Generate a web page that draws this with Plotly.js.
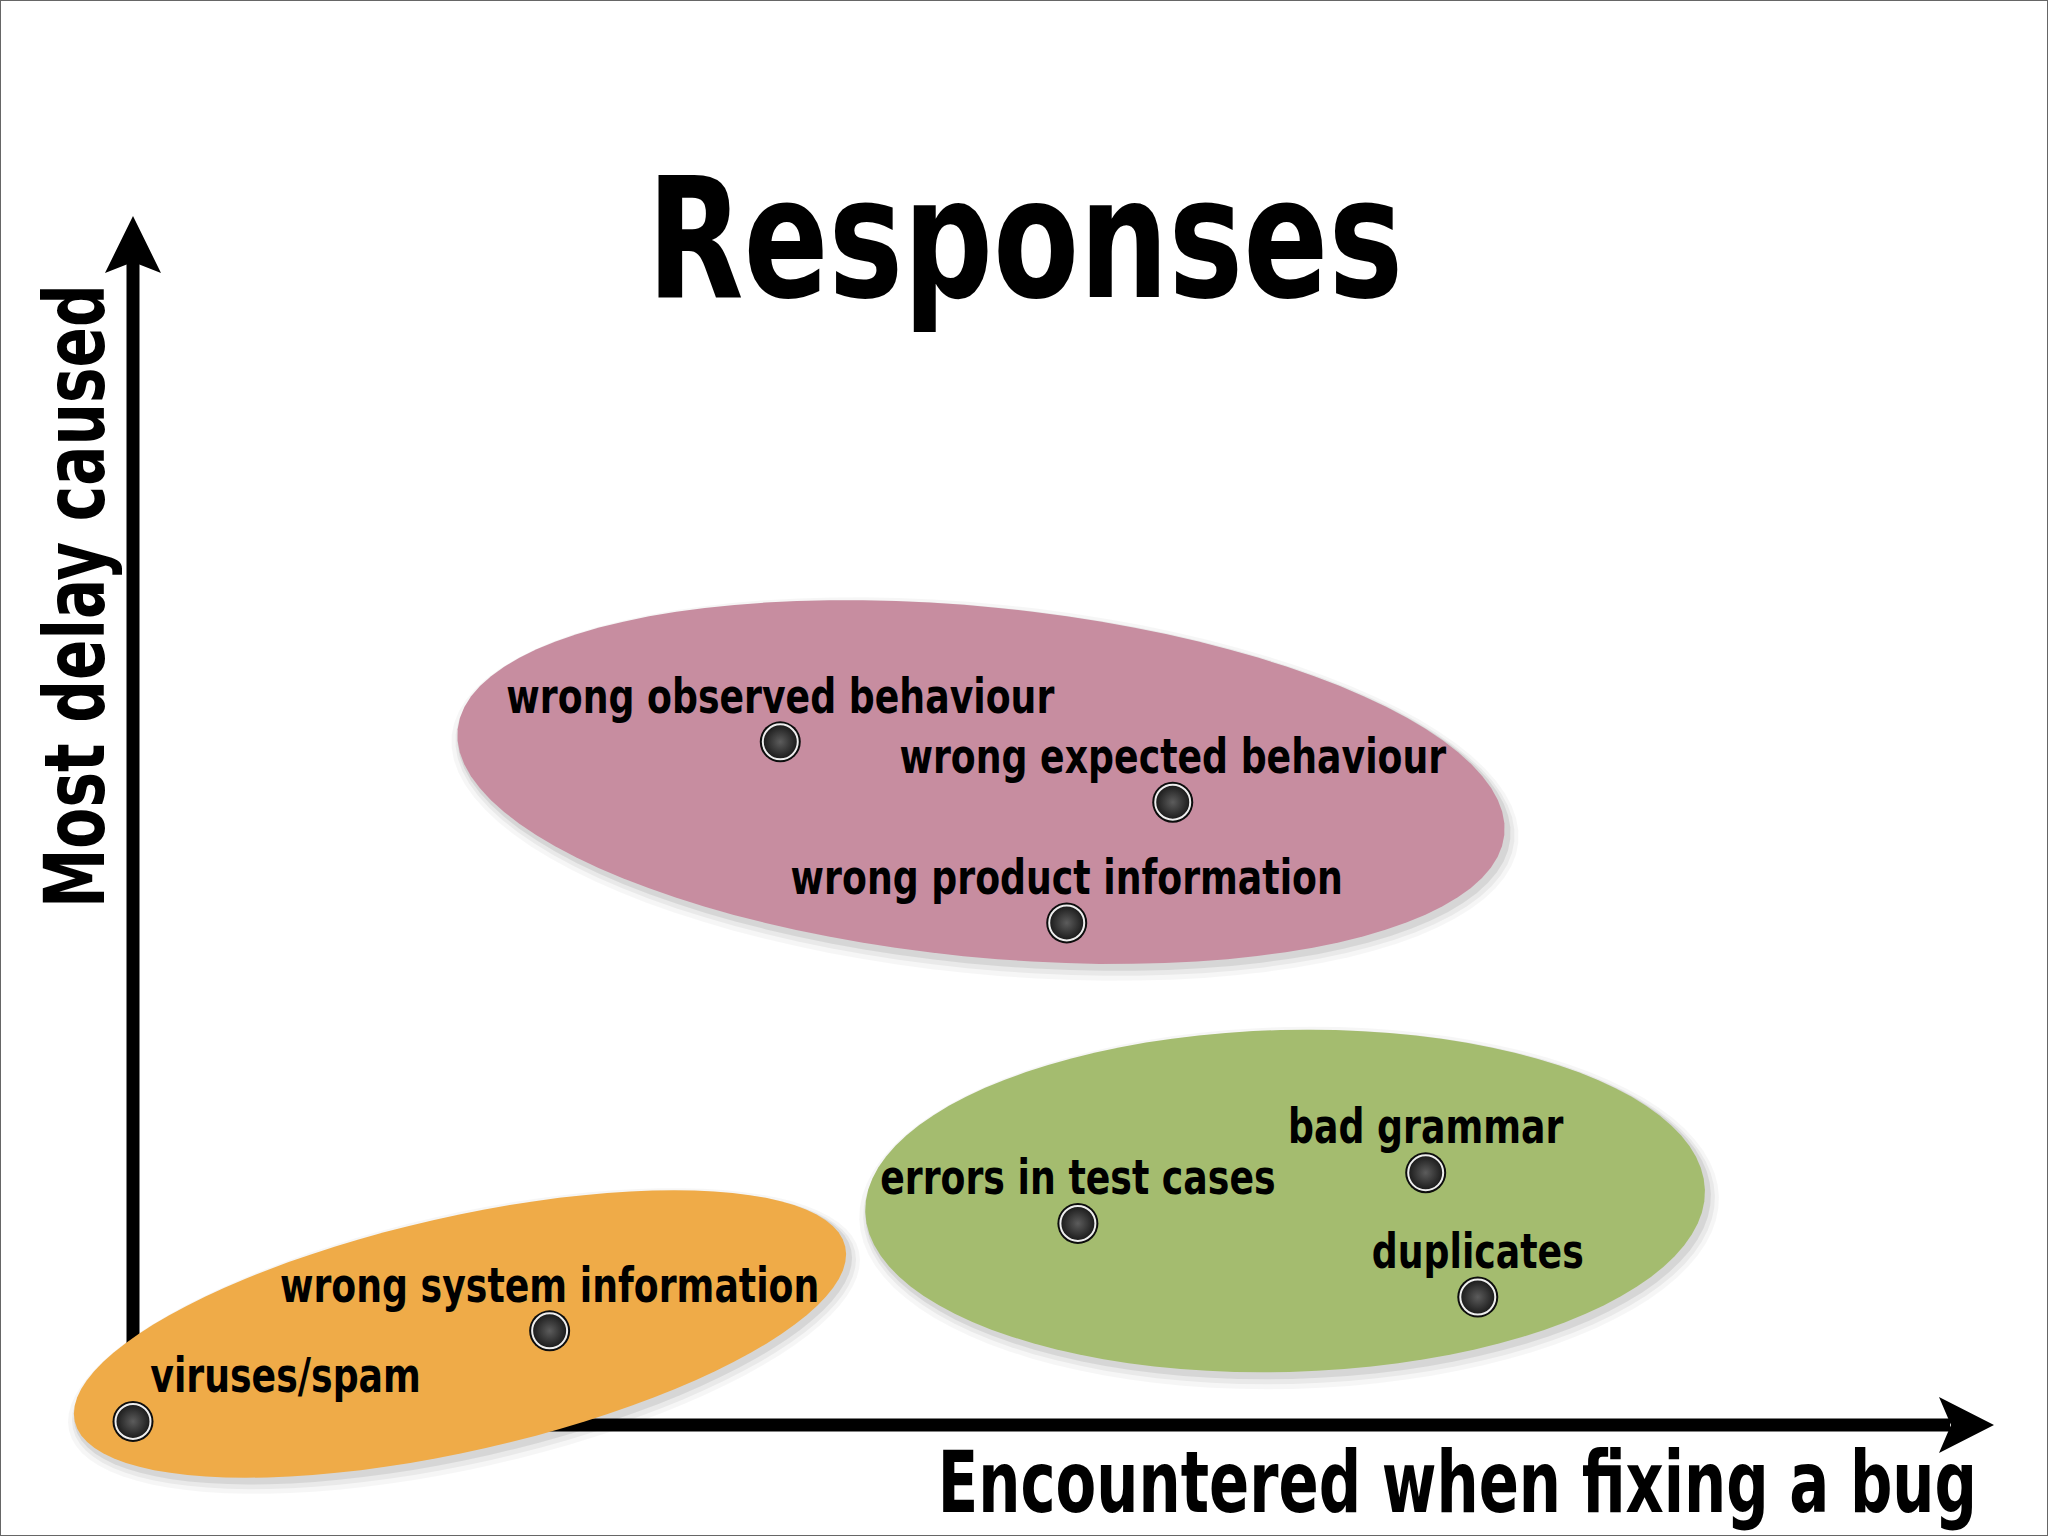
<!DOCTYPE html>
<html><head><meta charset="utf-8">
<script src="https://cdn.plot.ly/plotly-3.0.1.min.js"></script>
<style>html,body{margin:0;padding:0;background:#fff;} #chart{width:2048px;height:1536px;}</style>
</head><body><div id="chart"></div>
<script>
// ---- data (axes run 0..10 on both scales) ----
const labels = ['wrong observed behaviour', 'wrong expected behaviour', 'wrong product information',
                'errors in test cases', 'bad grammar', 'duplicates',
                'wrong system information', 'viruses/spam'];
const encountered = [3.48, 5.59, 5.02, 5.08, 6.95, 7.23, 2.24, 0.00];
const delay       = [5.66, 5.16, 4.16, 1.67, 2.09, 1.06, 0.78, 0.03];

// clusters (ellipses), in axis units
const clusterX    = [4.559, 6.194, 1.758];
const clusterY    = [5.327, 1.856, 0.754];
const clusterA    = [2.828, 2.258, 2.124];   // semi-axis along x units
const clusterB    = [1.450, 1.417, 0.969];   // semi-axis along y units
const clusterTilt = [5.75, -1.5, -12.8];

const titleText = 'Responses';
const xTitle = 'Encountered when fixing a bug';
const yTitle = 'Most delay caused';

// ---- styling ----
const FONT = "'Liberation Sans Narrow', 'Arial Narrow', 'DejaVu Sans Condensed', sans-serif";
const clusterColors = ['#c78da0', '#a4bc6f', '#efab48'];
const W = 2048, H = 1536;
const PXX = 186, PXY = 120.7;   // pixels per axis unit
const X0 = 133, Y0 = 1425;      // pixel position of the origin
const toX = px => (px - X0) / PXX;
const toY = py => (Y0 - py) / PXY;

function ellipsePath(i, grow, dxp, dyp) {
  const ax = clusterA[i] * PXX + grow, by = clusterB[i] * PXY + grow;
  const th = clusterTilt[i] * Math.PI / 180;
  const cxp = X0 + clusterX[i] * PXX + dxp, cyp = Y0 - clusterY[i] * PXY + dyp;
  let d = '';
  const N = 96;
  for (let k = 0; k <= N; k++) {
    const t = 2 * Math.PI * k / N;
    const px = cxp + ax * Math.cos(t) * Math.cos(th) - by * Math.sin(t) * Math.sin(th);
    const py = cyp + ax * Math.cos(t) * Math.sin(th) + by * Math.sin(t) * Math.cos(th);
    d += (k ? 'L' : 'M') + toX(px).toFixed(4) + ',' + toY(py).toFixed(4);
  }
  return d + 'Z';
}
function polyPath(pts) {
  return pts.map((p, k) => (k ? 'L' : 'M') + toX(p[0]).toFixed(4) + ',' + toY(p[1]).toFixed(4)).join('') + 'Z';
}

const shapes = [];
// axis arrows
shapes.push({type: 'line', xref: 'x', yref: 'y', layer: 'below',
  x0: 0, x1: 0, y0: toY(1432), y1: toY(262), line: {color: '#000', width: 13}});
shapes.push({type: 'line', xref: 'x', yref: 'y', layer: 'below',
  x0: toX(127), x1: toX(1950), y0: 0, y1: 0, line: {color: '#000', width: 13}});
shapes.push({type: 'path', xref: 'x', yref: 'y', layer: 'below', line: {width: 0},
  fillcolor: '#000', path: polyPath([[133, 216], [161, 273], [133, 262], [105, 273]])});
shapes.push({type: 'path', xref: 'x', yref: 'y', layer: 'below', line: {width: 0},
  fillcolor: '#000', path: polyPath([[1994, 1425], [1939, 1453], [1951, 1425], [1939, 1397]])});
// ellipses with soft shadows
for (let i = 0; i < clusterX.length; i++) {
  shapes.push({type: 'path', xref: 'x', yref: 'y', layer: 'below', line: {width: 0},
    fillcolor: 'rgba(0,0,0,0.035)', path: ellipsePath(i, 10, 4, 7)});
  shapes.push({type: 'path', xref: 'x', yref: 'y', layer: 'below', line: {width: 0},
    fillcolor: 'rgba(0,0,0,0.05)', path: ellipsePath(i, 6, 4, 6)});
  shapes.push({type: 'path', xref: 'x', yref: 'y', layer: 'below', line: {width: 0},
    fillcolor: 'rgba(0,0,0,0.08)', path: ellipsePath(i, 3, 3, 4)});
  shapes.push({type: 'path', xref: 'x', yref: 'y', layer: 'below', line: {width: 0},
    fillcolor: clusterColors[i], path: ellipsePath(i, 0, 0, 0)});
}
// slide frame
shapes.push({type: 'rect', xref: 'paper', yref: 'paper', x0: 0, x1: 1, y0: 0, y1: 1,
  line: {color: '#666', width: 2}, layer: 'above'});

const traces = [
  {type: 'scatter', mode: 'markers', x: encountered, y: delay, hoverinfo: 'skip',
   marker: {size: 41, color: '#0d0d0d', line: {width: 0}}},
  {type: 'scatter', mode: 'markers', x: encountered, y: delay, hoverinfo: 'text', text: labels,
   marker: {size: 35, color: '#1a1a1a', gradient: {type: 'radial', color: '#5c5c5c'},
            line: {color: '#eeeeee', width: 2}}},
  {type: 'scatter', mode: 'markers+text', x: encountered, y: delay, text: labels, hoverinfo: 'skip',
   textposition: labels.map(l => l === 'viruses/spam' ? 'top right' : 'top center'),
   textfont: {family: FONT, size: 48, color: '#000', weight: 'bold'},
   marker: {size: 26, color: 'rgba(0,0,0,0)', line: {width: 0}}}
];

const layout = {
  width: W, height: H, autosize: false,
  margin: {l: 0, r: 0, t: 0, b: 0, pad: 0},
  paper_bgcolor: '#fff', plot_bgcolor: '#fff',
  showlegend: false,
  title: {text: titleText, x: 1025 / W, xanchor: 'center', xref: 'container',
          y: 1 - 238 / H, yanchor: 'middle', yref: 'container',
          font: {family: FONT, size: 168, color: '#000', weight: 'bold'}},
  xaxis: {visible: false, range: [toX(0), toX(W)], fixedrange: true},
  yaxis: {visible: false, range: [toY(H), toY(0)], fixedrange: true},
  shapes: shapes,
  annotations: [
    {text: yTitle, x: toX(75), y: toY(596), xref: 'x', yref: 'y', showarrow: false,
     textangle: -90, xanchor: 'center', yanchor: 'middle',
     font: {family: FONT, size: 84, color: '#000', weight: 'bold'}},
    {text: xTitle, x: toX(1979), y: toY(1482), xref: 'x', yref: 'y', showarrow: false,
     xanchor: 'right', yanchor: 'middle',
     font: {family: FONT, size: 85, color: '#000', weight: 'bold'}}
  ]
};

// horizontally condense real SVG text to imitate the condensed slide typeface
function squeeze(el, s, where) {
  const bb = el.getBBox();
  let ax;
  if (where === 'left') ax = bb.x;
  else if (where === 'right') ax = bb.x + bb.width;
  else ax = bb.x + bb.width / 2;
  const ay = bb.y + bb.height / 2;
  const prev = el.getAttribute('transform') || '';
  el.setAttribute('transform', (prev + ' translate(' + ax + ',' + ay + ') scale(' + s + ',1) translate(' + (-ax) + ',' + (-ay) + ')').trim());
}

Plotly.newPlot('chart', traces, layout, {displayModeBar: false, staticPlot: true}).then(function (gd) {
  gd.querySelectorAll('.g-gtitle text').forEach(el => squeeze(el, 0.83, 'center'));
  gd.querySelectorAll('.textpoint text').forEach(el => {
    squeeze(el, 0.84, el.getAttribute('text-anchor') === 'start' ? 'left' : 'center');
  });
  const ann = gd.querySelectorAll('.annotation-text');
  ann.forEach(el => {
    if (el.textContent === yTitle) squeeze(el, 0.79, 'center');
    else squeeze(el, 0.775, 'right');
  });
});
</script>
</body></html>
